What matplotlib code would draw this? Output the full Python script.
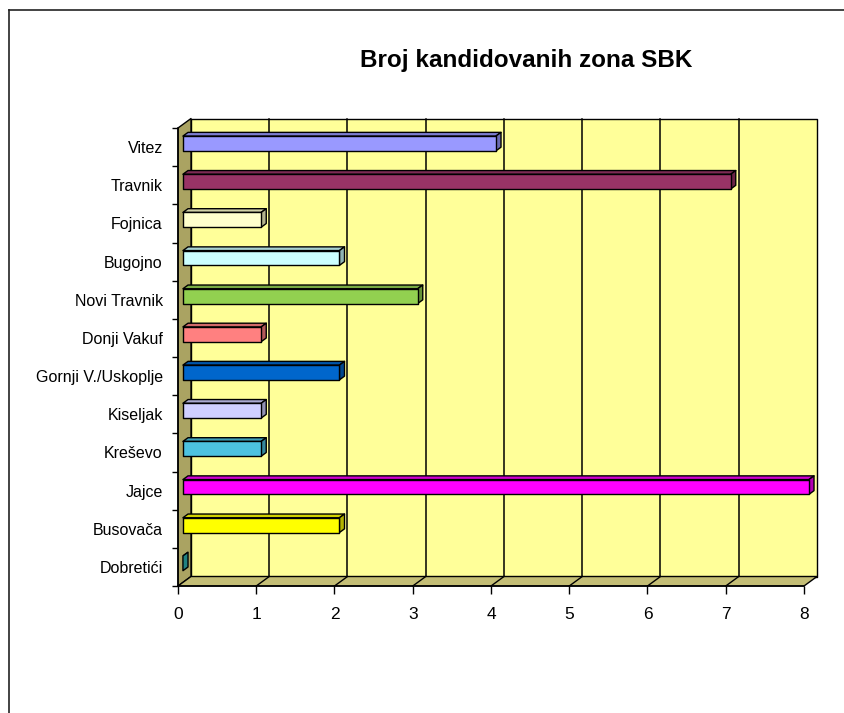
import matplotlib
matplotlib.use("Agg")
import matplotlib.pyplot as plt
import matplotlib.colors as mcolors
from matplotlib.patches import Polygon
from matplotlib.lines import Line2D
import numpy as np

# data, bottom to top
towns = ['Dobretići', 'Busovača', 'Jajce', 'Kreševo', 'Kiseljak', 'Gornji V./Uskoplje',
         'Donji Vakuf', 'Novi Travnik', 'Bugojno', 'Fojnica', 'Travnik', 'Vitez']
zones = [0, 2, 8, 1, 1, 2, 1, 3, 2, 1, 7, 4]
bar_colors = ['#2fb8b8', '#ffff00', '#ff00ff', '#4dc2e0', '#d0d0ff', '#0066cc',
              '#ff8080', '#92d050', '#ccffff', '#ffffcc', '#993366', '#9999ff']
x_ticks = [0, 1, 2, 3, 4, 5, 6, 7, 8]

plt.rcParams['font.family'] = ['Liberation Sans', 'DejaVu Sans']

W, H = 845, 713
fig = plt.figure(figsize=(W / 100, H / 100), dpi=100)

# front plane of the fake 3d box, in pixels
left_px, right_px, top_px, bot_px = 178, 804, 128, 586
ax = fig.add_axes([left_px / W, (H - bot_px) / H,
                   (right_px - left_px) / W, (bot_px - top_px) / H])
n = len(towns)
xmax = x_ticks[-1]
ax.set_xlim(0, xmax)
ax.set_ylim(-0.5, n - 0.5)
ax.patch.set_visible(False)

# pixel -> data helpers
px_x = xmax / (right_px - left_px)
px_y = n / (bot_px - top_px)
dx, dy = 13 * px_x, 9.5 * px_y     # depth of the box
ec = 'black'
lw = 1.0


def shade(c, f):
    r, g, b = mcolors.to_rgb(c)
    return (r * f, g * f, b * f)


def poly(pts, fc, z):
    ax.add_patch(Polygon(pts, closed=True, facecolor=fc, edgecolor=ec,
                         linewidth=lw, clip_on=False, zorder=z, joinstyle='round'))


y0, y1 = -0.5, n - 0.5
# back wall
poly([(dx, y0 + dy), (xmax + dx, y0 + dy), (xmax + dx, y1 + dy), (dx, y1 + dy)], '#ffff99', 1)
for k in x_ticks[1:-1]:
    ax.plot([k + dx, k + dx], [y0 + dy, y1 + dy], color=ec, lw=1.1, zorder=1.5, clip_on=False)
# side wall and floor
poly([(0, y0), (dx, y0 + dy), (dx, y1 + dy), (0, y1)], '#aaa362', 2)
poly([(0, y0), (xmax, y0), (xmax + dx, y0 + dy), (dx, y0 + dy)], '#c4be76', 2)
for k in x_ticks[1:-1]:
    ax.plot([k, k + dx], [y0, y0 + dy], color=ec, lw=lw, zorder=2.5, clip_on=False)

# bars
f0, f1 = 0.38, 0.77
hh = 7.4 * px_y
for i, (v, c) in enumerate(zip(zones, bar_colors)):
    ox, oy = f0 * dx, f0 * dy
    bx, by = (f1 - f0) * dx, (f1 - f0) * dy
    yb, yt = i - hh + oy, i + hh + oy
    xl, xr = ox, v + ox
    # top face
    poly([(xl, yt), (xr, yt), (xr + bx, yt + by), (xl + bx, yt + by)], shade(c, 0.82), 3)
    # side face
    poly([(xr, yb), (xr + bx, yb + by), (xr + bx, yt + by), (xr, yt)], shade(c, 0.7), 3)
    # front face
    if v > 0:
        poly([(xl, yb), (xr, yb), (xr, yt), (xl, yt)], c, 3.5)

# axes
for s in ['top', 'right']:
    ax.spines[s].set_visible(False)
for s in ['left', 'bottom']:
    ax.spines[s].set_linewidth(1.1)
    ax.spines[s].set_zorder(4)

ax.set_xticks(x_ticks)
ax.set_xticklabels([str(t) for t in x_ticks])
ax.tick_params(axis='x', length=6, width=1, pad=9, labelsize=12.5)

ax.set_yticks(np.arange(n + 1) - 0.5)
ax.set_yticklabels([])
ax.tick_params(axis='y', which='major', length=4, width=1)
ax.set_yticks(np.arange(n), minor=True)
ax.set_yticklabels(towns, minor=True)
ax.tick_params(axis='y', which='minor', length=0, pad=11, labelsize=11.5)

fig.text(526 / W, 1 - 61 / H, 'Broj kandidovanih zona SBK', ha='center', va='center',
         fontsize=17.5, fontweight='bold')

# outer frame (top and left edge)
fig.add_artist(Line2D([9 / W, 9 / W], [0, 1 - 10 / H], transform=fig.transFigure,
                      color='#222222', lw=1.2))
fig.add_artist(Line2D([9 / W, 1], [1 - 10 / H, 1 - 10 / H], transform=fig.transFigure,
                      color='#222222', lw=1.2))

fig.savefig('out.png', dpi=100, facecolor='white')
